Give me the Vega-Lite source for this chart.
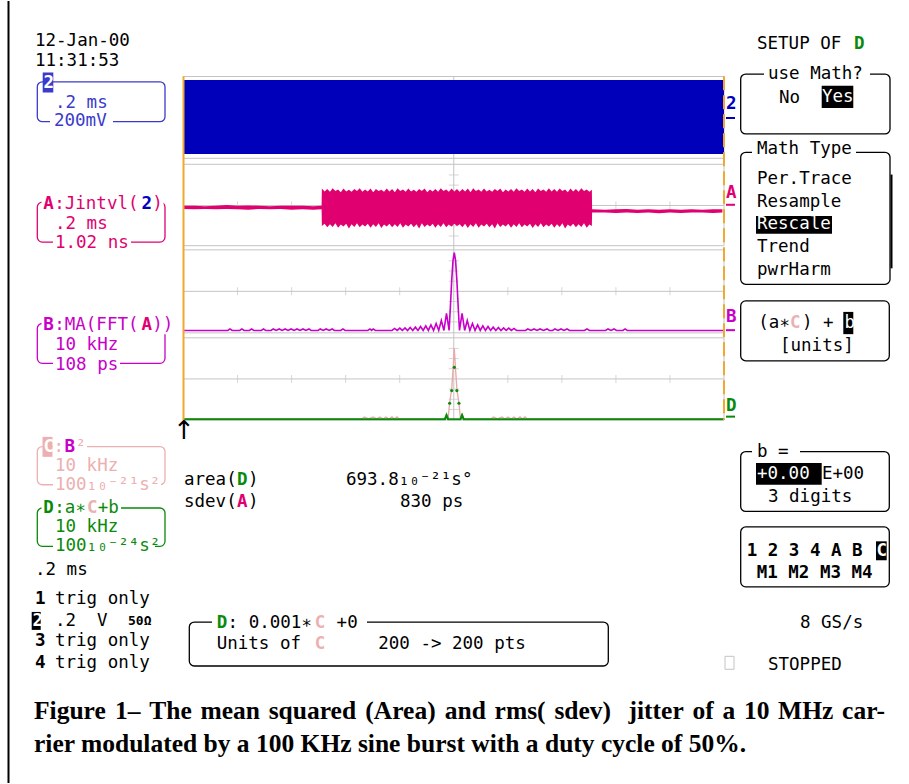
{
  "$schema": "https://vega.github.io/schema/vega-lite/v6.json",
  "width": 909,
  "height": 784,
  "autosize": {"type": "fit", "contains": "padding"},
  "padding": 0,
  "background": "#ffffff",
  "config": {"view": {"stroke": null}, "axis": {"disable": true}, "legend": {"disable": true}},
  "datasets": {
    "boxes": [
      {"x": 37.3, "x2": 165, "y": 81, "y2": 121, "c": "blue"},
      {"x": 37.3, "x2": 165, "y": 201.7, "y2": 241.7, "c": "pink"},
      {"x": 37.3, "x2": 165, "y": 323.3, "y2": 363.3, "c": "mag"},
      {"x": 37.3, "x2": 165, "y": 446.7, "y2": 485, "c": "lpink"},
      {"x": 37.3, "x2": 165, "y": 508.3, "y2": 546.7, "c": "green"},
      {"x": 740.7, "x2": 890, "y": 73.3, "y2": 133.3, "c": "k"},
      {"x": 740.7, "x2": 890, "y": 151.7, "y2": 284, "c": "k"},
      {"x": 740.7, "x2": 889.3, "y": 300.7, "y2": 360.7, "c": "k"},
      {"x": 740.7, "x2": 889.3, "y": 451.7, "y2": 511.7, "c": "k"},
      {"x": 740.7, "x2": 889.3, "y": 527.3, "y2": 587.3, "c": "k"},
      {"x": 189.3, "x2": 608.3, "y": 622.7, "y2": 666.7, "c": "k"}
    ],
    "fills": [
      {"x": 50, "x2": 113, "y": 114, "y2": 128, "c": "w"},
      {"x": 41.5, "x2": 163.5, "y": 194, "y2": 212, "c": "w"},
      {"x": 53, "x2": 131, "y": 235, "y2": 250, "c": "w"},
      {"x": 41.5, "x2": 172, "y": 315, "y2": 334, "c": "w"},
      {"x": 53, "x2": 120, "y": 357, "y2": 371, "c": "w"},
      {"x": 52.5, "x2": 87, "y": 439, "y2": 455, "c": "w"},
      {"x": 53, "x2": 161, "y": 478, "y2": 492, "c": "w"},
      {"x": 41.5, "x2": 121, "y": 500, "y2": 516, "c": "w"},
      {"x": 53, "x2": 155, "y": 539, "y2": 553, "c": "w"},
      {"x": 764, "x2": 870, "y": 66, "y2": 81, "c": "w"},
      {"x": 752, "x2": 856, "y": 141, "y2": 157, "c": "w"},
      {"x": 752, "x2": 800, "y": 444, "y2": 459, "c": "w"},
      {"x": 212, "x2": 367, "y": 615, "y2": 631, "c": "w"},
      {"x": 42.7, "x2": 53.3, "y": 71.7, "y2": 91.7, "c": "blue"},
      {"x": 42.5, "x2": 52.5, "y": 437, "y2": 457, "c": "lpink"},
      {"x": 31.7, "x2": 40.7, "y": 612.5, "y2": 630.5, "c": "k"},
      {"x": 821.7, "x2": 853.3, "y": 85, "y2": 107.3, "c": "k"},
      {"x": 756, "x2": 832, "y": 215.5, "y2": 233.3, "c": "k"},
      {"x": 843.3, "x2": 853.3, "y": 311.7, "y2": 334, "c": "k"},
      {"x": 756, "x2": 821.7, "y": 463.3, "y2": 485, "c": "k"},
      {"x": 876, "x2": 886.7, "y": 541.7, "y2": 560.7, "c": "k"}
    ],
    "plainrects": [
      {"x": 183.5, "x2": 724, "y": 75.7, "y2": 157.7},
      {"x": 183.5, "x2": 724, "y": 163.7, "y2": 245.3},
      {"x": 183.5, "x2": 724, "y": 249.5, "y2": 332.7},
      {"x": 183.5, "x2": 724, "y": 337.7, "y2": 420},
      {"x": 725, "x2": 734, "y": 657, "y2": 670}
    ],
    "gridlines": [
      {"x": 183.5, "x2": 724, "y": 116.7, "y2": 116.7},
      {"x": 183.5, "x2": 724, "y": 205, "y2": 205},
      {"x": 183.5, "x2": 724, "y": 291.1, "y2": 291.1},
      {"x": 183.5, "x2": 724, "y": 378.9, "y2": 378.9},
      {"x": 453.75, "x2": 453.75, "y": 75.7, "y2": 420}
    ],
    "hticks": [
      {"x": 237.55, "y": 205}, {"x": 291.6, "y": 205}, {"x": 345.65, "y": 205}, {"x": 399.7, "y": 205},
      {"x": 507.8, "y": 205}, {"x": 561.85, "y": 205}, {"x": 615.9, "y": 205}, {"x": 669.95, "y": 205},
      {"x": 237.55, "y": 291.1}, {"x": 291.6, "y": 291.1}, {"x": 345.65, "y": 291.1}, {"x": 399.7, "y": 291.1},
      {"x": 507.8, "y": 291.1}, {"x": 561.85, "y": 291.1}, {"x": 615.9, "y": 291.1}, {"x": 669.95, "y": 291.1},
      {"x": 237.55, "y": 378.9}, {"x": 291.6, "y": 378.9}, {"x": 345.65, "y": 378.9}, {"x": 399.7, "y": 378.9},
      {"x": 507.8, "y": 378.9}, {"x": 561.85, "y": 378.9}, {"x": 615.9, "y": 378.9}, {"x": 669.95, "y": 378.9}
    ],
    "vticks": [
      {"x": 453.75, "y": 174.4}, {"x": 453.75, "y": 184.6}, {"x": 453.75, "y": 194.8},
      {"x": 453.75, "y": 215.2}, {"x": 453.75, "y": 225.4}, {"x": 453.75, "y": 235.6},
      {"x": 453.75, "y": 260.5}, {"x": 453.75, "y": 270.7}, {"x": 453.75, "y": 280.9},
      {"x": 453.75, "y": 301.3}, {"x": 453.75, "y": 311.5}, {"x": 453.75, "y": 321.7},
      {"x": 453.75, "y": 348.3}, {"x": 453.75, "y": 358.5}, {"x": 453.75, "y": 368.7},
      {"x": 453.75, "y": 389.1}, {"x": 453.75, "y": 399.3}, {"x": 453.75, "y": 409.5}
    ],
    "ch2": [
      {"t": 0, "lo": -180, "hi": 182},
      {"t": 10, "lo": -180, "hi": 182}
    ],
    "chA": [
      {"t": 0.0, "lo": -0.07, "hi": 0.01}, {"t": 0.2, "lo": -0.08, "hi": 0.01}, {"t": 0.4, "lo": -0.07, "hi": 0.0},
      {"t": 0.6, "lo": -0.08, "hi": 0.01}, {"t": 0.8, "lo": -0.07, "hi": 0.03}, {"t": 1.0, "lo": -0.08, "hi": 0.01},
      {"t": 1.2, "lo": -0.09, "hi": 0.02}, {"t": 1.4, "lo": -0.07, "hi": 0.01}, {"t": 1.6, "lo": -0.08, "hi": 0.0},
      {"t": 1.8, "lo": -0.07, "hi": 0.01}, {"t": 2.0, "lo": -0.09, "hi": 0.01}, {"t": 2.2, "lo": -0.08, "hi": 0.01},
      {"t": 2.4, "lo": -0.09, "hi": 0.0}, {"t": 2.555, "lo": -0.08, "hi": 0.01},
      {"t": 2.56, "lo": -0.50, "hi": 0.44}, {"t": 2.61, "lo": -0.44, "hi": 0.37}, {"t": 2.66, "lo": -0.53, "hi": 0.43},
      {"t": 2.71, "lo": -0.45, "hi": 0.36}, {"t": 2.76, "lo": -0.52, "hi": 0.45}, {"t": 2.81, "lo": -0.43, "hi": 0.38},
      {"t": 2.86, "lo": -0.54, "hi": 0.42}, {"t": 2.91, "lo": -0.46, "hi": 0.35}, {"t": 2.96, "lo": -0.51, "hi": 0.44},
      {"t": 3.01, "lo": -0.44, "hi": 0.37}, {"t": 3.06, "lo": -0.56, "hi": 0.41}, {"t": 3.11, "lo": -0.45, "hi": 0.36},
      {"t": 3.16, "lo": -0.52, "hi": 0.43}, {"t": 3.21, "lo": -0.43, "hi": 0.38}, {"t": 3.26, "lo": -0.53, "hi": 0.45},
      {"t": 3.31, "lo": -0.46, "hi": 0.36}, {"t": 3.36, "lo": -0.51, "hi": 0.42}, {"t": 3.41, "lo": -0.44, "hi": 0.37},
      {"t": 3.46, "lo": -0.54, "hi": 0.44}, {"t": 3.51, "lo": -0.45, "hi": 0.35}, {"t": 3.56, "lo": -0.52, "hi": 0.43},
      {"t": 3.61, "lo": -0.43, "hi": 0.38}, {"t": 3.66, "lo": -0.55, "hi": 0.41}, {"t": 3.71, "lo": -0.46, "hi": 0.36},
      {"t": 3.76, "lo": -0.51, "hi": 0.44}, {"t": 3.81, "lo": -0.44, "hi": 0.37}, {"t": 3.86, "lo": -0.53, "hi": 0.43},
      {"t": 3.91, "lo": -0.45, "hi": 0.35}, {"t": 3.96, "lo": -0.52, "hi": 0.45}, {"t": 4.01, "lo": -0.43, "hi": 0.38},
      {"t": 4.06, "lo": -0.54, "hi": 0.42}, {"t": 4.11, "lo": -0.46, "hi": 0.36}, {"t": 4.16, "lo": -0.51, "hi": 0.44},
      {"t": 4.21, "lo": -0.44, "hi": 0.37}, {"t": 4.26, "lo": -0.53, "hi": 0.41}, {"t": 4.31, "lo": -0.45, "hi": 0.36},
      {"t": 4.36, "lo": -0.56, "hi": 0.43}, {"t": 4.41, "lo": -0.43, "hi": 0.38}, {"t": 4.46, "lo": -0.52, "hi": 0.44},
      {"t": 4.51, "lo": -0.46, "hi": 0.35}, {"t": 4.56, "lo": -0.51, "hi": 0.42}, {"t": 4.61, "lo": -0.44, "hi": 0.37},
      {"t": 4.66, "lo": -0.54, "hi": 0.43}, {"t": 4.71, "lo": -0.45, "hi": 0.36}, {"t": 4.76, "lo": -0.52, "hi": 0.45},
      {"t": 4.81, "lo": -0.43, "hi": 0.38}, {"t": 4.86, "lo": -0.53, "hi": 0.42}, {"t": 4.91, "lo": -0.46, "hi": 0.36},
      {"t": 4.96, "lo": -0.51, "hi": 0.44}, {"t": 5.01, "lo": -0.44, "hi": 0.37}, {"t": 5.06, "lo": -0.50, "hi": 0.43},
      {"t": 5.11, "lo": -0.45, "hi": 0.36}, {"t": 5.16, "lo": -0.53, "hi": 0.43}, {"t": 5.21, "lo": -0.44, "hi": 0.37},
      {"t": 5.26, "lo": -0.55, "hi": 0.44}, {"t": 5.31, "lo": -0.45, "hi": 0.35}, {"t": 5.36, "lo": -0.52, "hi": 0.45},
      {"t": 5.41, "lo": -0.43, "hi": 0.38}, {"t": 5.46, "lo": -0.54, "hi": 0.42}, {"t": 5.51, "lo": -0.46, "hi": 0.36},
      {"t": 5.56, "lo": -0.51, "hi": 0.44}, {"t": 5.61, "lo": -0.44, "hi": 0.37}, {"t": 5.66, "lo": -0.53, "hi": 0.41},
      {"t": 5.71, "lo": -0.45, "hi": 0.36}, {"t": 5.76, "lo": -0.56, "hi": 0.43}, {"t": 5.81, "lo": -0.43, "hi": 0.38},
      {"t": 5.86, "lo": -0.52, "hi": 0.44}, {"t": 5.91, "lo": -0.46, "hi": 0.35}, {"t": 5.96, "lo": -0.51, "hi": 0.42},
      {"t": 6.01, "lo": -0.44, "hi": 0.37}, {"t": 6.06, "lo": -0.54, "hi": 0.43}, {"t": 6.11, "lo": -0.45, "hi": 0.36},
      {"t": 6.16, "lo": -0.52, "hi": 0.45}, {"t": 6.21, "lo": -0.43, "hi": 0.38}, {"t": 6.26, "lo": -0.53, "hi": 0.42},
      {"t": 6.31, "lo": -0.46, "hi": 0.36}, {"t": 6.36, "lo": -0.51, "hi": 0.44}, {"t": 6.41, "lo": -0.44, "hi": 0.37},
      {"t": 6.46, "lo": -0.55, "hi": 0.43}, {"t": 6.51, "lo": -0.45, "hi": 0.35}, {"t": 6.56, "lo": -0.52, "hi": 0.44},
      {"t": 6.61, "lo": -0.43, "hi": 0.38}, {"t": 6.66, "lo": -0.53, "hi": 0.42}, {"t": 6.71, "lo": -0.46, "hi": 0.36},
      {"t": 6.76, "lo": -0.51, "hi": 0.45}, {"t": 6.81, "lo": -0.44, "hi": 0.37}, {"t": 6.86, "lo": -0.54, "hi": 0.43},
      {"t": 6.91, "lo": -0.45, "hi": 0.36}, {"t": 6.96, "lo": -0.52, "hi": 0.44}, {"t": 7.01, "lo": -0.43, "hi": 0.38},
      {"t": 7.06, "lo": -0.56, "hi": 0.42}, {"t": 7.11, "lo": -0.46, "hi": 0.35}, {"t": 7.16, "lo": -0.51, "hi": 0.44},
      {"t": 7.21, "lo": -0.44, "hi": 0.37}, {"t": 7.26, "lo": -0.53, "hi": 0.43}, {"t": 7.31, "lo": -0.45, "hi": 0.36},
      {"t": 7.36, "lo": -0.52, "hi": 0.45}, {"t": 7.41, "lo": -0.43, "hi": 0.38}, {"t": 7.46, "lo": -0.54, "hi": 0.42},
      {"t": 7.51, "lo": -0.46, "hi": 0.36}, {"t": 7.555, "lo": -0.50, "hi": 0.41},
      {"t": 7.56, "lo": -0.16, "hi": -0.08}, {"t": 7.8, "lo": -0.16, "hi": -0.09}, {"t": 8.0, "lo": -0.17, "hi": -0.08},
      {"t": 8.2, "lo": -0.16, "hi": -0.07}, {"t": 8.4, "lo": -0.17, "hi": -0.09}, {"t": 8.6, "lo": -0.16, "hi": -0.08},
      {"t": 8.8, "lo": -0.18, "hi": -0.09}, {"t": 9.0, "lo": -0.16, "hi": -0.08}, {"t": 9.2, "lo": -0.17, "hi": -0.09},
      {"t": 9.4, "lo": -0.16, "hi": -0.08}, {"t": 9.6, "lo": -0.16, "hi": -0.09}, {"t": 9.8, "lo": -0.17, "hi": -0.08},
      {"t": 9.97, "lo": -0.16, "hi": -0.08}
    ],
    "chB": [
      {"t": 0, "v": 0},
      {"t": 0.82, "v": 0}, {"t": 0.86, "v": 4}, {"t": 0.9, "v": 0},
      {"t": 1.04, "v": 0}, {"t": 1.08, "v": 4}, {"t": 1.12, "v": 0},
      {"t": 1.22, "v": 0}, {"t": 1.26, "v": 4}, {"t": 1.3, "v": 0},
      {"t": 1.44, "v": 0}, {"t": 1.48, "v": 4}, {"t": 1.52, "v": 0},
      {"t": 1.62, "v": 0}, {"t": 1.66, "v": 4}, {"t": 1.715, "v": 0}, {"t": 1.77, "v": 4}, {"t": 1.825, "v": 0},
      {"t": 1.88, "v": 4}, {"t": 1.935, "v": 0}, {"t": 1.99, "v": 4}, {"t": 2.045, "v": 0}, {"t": 2.1, "v": 4},
      {"t": 2.155, "v": 0}, {"t": 2.21, "v": 4}, {"t": 2.265, "v": 0}, {"t": 2.32, "v": 4}, {"t": 2.36, "v": 0},
      {"t": 2.49, "v": 0}, {"t": 2.53, "v": 4}, {"t": 2.585, "v": 0}, {"t": 2.64, "v": 4}, {"t": 2.695, "v": 0},
      {"t": 2.75, "v": 4}, {"t": 2.79, "v": 0},
      {"t": 2.91, "v": 0}, {"t": 2.95, "v": 4}, {"t": 2.99, "v": 0},
      {"t": 3.41, "v": 0}, {"t": 3.45, "v": 4}, {"t": 3.48, "v": 0}, {"t": 3.51, "v": 4}, {"t": 3.55, "v": 0},
      {"t": 3.858, "v": 0}, {"t": 3.906, "v": 5.3}, {"t": 3.954, "v": 0}, {"t": 4.002, "v": 6.3}, {"t": 4.05, "v": 0},
      {"t": 4.098, "v": 6.8}, {"t": 4.146, "v": 0}, {"t": 4.194, "v": 7.9}, {"t": 4.242, "v": 0}, {"t": 4.29, "v": 8.7},
      {"t": 4.338, "v": 0}, {"t": 4.386, "v": 10.5}, {"t": 4.434, "v": 0}, {"t": 4.482, "v": 11.9}, {"t": 4.53, "v": 0},
      {"t": 4.578, "v": 14.5}, {"t": 4.626, "v": 0}, {"t": 4.674, "v": 18.4}, {"t": 4.722, "v": 0}, {"t": 4.77, "v": 26.3},
      {"t": 4.818, "v": 0}, {"t": 4.866, "v": 44.8}, {"t": 4.914, "v": 0}, {"t": 4.938, "v": 63.2}, {"t": 4.962, "v": 131.7},
      {"t": 4.986, "v": 184.4}, {"t": 5.01, "v": 205.5}, {"t": 5.034, "v": 184.4}, {"t": 5.058, "v": 131.7},
      {"t": 5.082, "v": 63.2}, {"t": 5.106, "v": 0}, {"t": 5.154, "v": 44.8}, {"t": 5.202, "v": 0}, {"t": 5.25, "v": 26.3},
      {"t": 5.298, "v": 0}, {"t": 5.346, "v": 18.4}, {"t": 5.394, "v": 0}, {"t": 5.442, "v": 14.5}, {"t": 5.49, "v": 0},
      {"t": 5.538, "v": 11.9}, {"t": 5.586, "v": 0}, {"t": 5.634, "v": 10.5}, {"t": 5.682, "v": 0}, {"t": 5.73, "v": 8.7},
      {"t": 5.778, "v": 0}, {"t": 5.826, "v": 7.9}, {"t": 5.874, "v": 0}, {"t": 5.922, "v": 6.8}, {"t": 5.97, "v": 0},
      {"t": 6.018, "v": 6.3}, {"t": 6.066, "v": 0}, {"t": 6.114, "v": 5.3}, {"t": 6.162, "v": 0},
      {"t": 6.33, "v": 0}, {"t": 6.37, "v": 4}, {"t": 6.43, "v": 0}, {"t": 6.485, "v": 4}, {"t": 6.54, "v": 0},
      {"t": 6.596, "v": 4}, {"t": 6.66, "v": 0}, {"t": 6.725, "v": 4}, {"t": 6.77, "v": 0},
      {"t": 6.83, "v": 0}, {"t": 6.873, "v": 4}, {"t": 6.93, "v": 0}, {"t": 6.984, "v": 4}, {"t": 7.04, "v": 0},
      {"t": 7.095, "v": 4}, {"t": 7.14, "v": 0},
      {"t": 7.42, "v": 0}, {"t": 7.465, "v": 4}, {"t": 7.51, "v": 0},
      {"t": 7.81, "v": 0}, {"t": 7.854, "v": 4}, {"t": 7.91, "v": 0}, {"t": 7.965, "v": 4}, {"t": 8.01, "v": 0},
      {"t": 8.13, "v": 0}, {"t": 8.17, "v": 4}, {"t": 8.21, "v": 0},
      {"t": 10, "v": 0}
    ],
    "chC": [
      {"t": 0, "v": 0},
      {"t": 3.3, "v": 0}, {"t": 3.345, "v": 4.9}, {"t": 3.425, "v": 0}, {"t": 3.506, "v": 4.9}, {"t": 3.57, "v": 0},
      {"t": 3.635, "v": 4.9}, {"t": 3.69, "v": 0}, {"t": 3.746, "v": 4.9}, {"t": 3.8, "v": 0}, {"t": 3.857, "v": 4.9},
      {"t": 3.9, "v": 0}, {"t": 3.95, "v": 4.9}, {"t": 3.99, "v": 0},
      {"t": 4.837, "v": 0}, {"t": 4.866, "v": 9.8}, {"t": 4.895, "v": 0}, {"t": 4.924, "v": 39}, {"t": 4.962, "v": 73},
      {"t": 4.986, "v": 120}, {"t": 5.01, "v": 173.2}, {"t": 5.034, "v": 120}, {"t": 5.058, "v": 73}, {"t": 5.096, "v": 39},
      {"t": 5.125, "v": 0}, {"t": 5.154, "v": 9.8}, {"t": 5.183, "v": 0},
      {"t": 5.69, "v": 0}, {"t": 5.732, "v": 4.9}, {"t": 5.81, "v": 0}, {"t": 5.893, "v": 4.9}, {"t": 5.95, "v": 0},
      {"t": 6.004, "v": 4.9}, {"t": 6.06, "v": 0}, {"t": 6.115, "v": 4.9}, {"t": 6.17, "v": 0}, {"t": 6.226, "v": 4.9},
      {"t": 6.27, "v": 0}, {"t": 6.318, "v": 4.9}, {"t": 6.36, "v": 0},
      {"t": 10, "v": 0}
    ],
    "chD": [
      {"t": 0, "v": 0}, {"t": 4.837, "v": 0}, {"t": 4.866, "v": 9.8}, {"t": 4.895, "v": 0}, {"t": 4.924, "v": 39},
      {"t": 4.962, "v": 70}, {"t": 5.01, "v": 126.8}, {"t": 5.058, "v": 70}, {"t": 5.096, "v": 39}, {"t": 5.125, "v": 0},
      {"t": 5.154, "v": 9.8}, {"t": 5.183, "v": 0}, {"t": 10, "v": 0}
    ],
    "edges": [
      {"x": 183.5, "x2": 183.5, "y": 75.5, "y2": 420, "side": "l"},
      {"x": 724, "x2": 724, "y": 75.5, "y2": 420, "side": "r"}
    ],
    "lines": [
      {"x": 726, "x2": 735, "y": 117.3, "y2": 117.3, "c": "blue2"},
      {"x": 726, "x2": 735, "y": 204.3, "y2": 204.3, "c": "pink"},
      {"x": 726, "x2": 735, "y": 330, "y2": 330, "c": "mag"},
      {"x": 726, "x2": 735, "y": 416.7, "y2": 416.7, "c": "green"},
      {"x": 8.5, "x2": 8.5, "y": 0, "y2": 784, "c": "k"},
      {"x": 891.5, "x2": 891.5, "y": 174, "y2": 268, "c": "k"}
    ],
    "texts": [
      {"x": 35, "y": 40, "s": "12-Jan-00", "c": "k"},
      {"x": 35, "y": 60, "s": "11:31:53", "c": "k"},
      {"x": 55, "y": 102, "s": ".2 ms", "c": "blue"},
      {"x": 54, "y": 120.5, "s": "200mV", "c": "blue"},
      {"x": 54.2, "y": 203.5, "s": ":Jintvl(", "c": "pink"},
      {"x": 152.3, "y": 203.5, "s": ")", "c": "pink"},
      {"x": 55, "y": 223.5, "s": ".2 ms", "c": "pink"},
      {"x": 55, "y": 243, "s": "1.02 ns", "c": "pink"},
      {"x": 54.2, "y": 325, "s": ":MA(FFT(", "c": "mag"},
      {"x": 152.3, "y": 325, "s": "))", "c": "mag"},
      {"x": 55, "y": 345, "s": "10 kHz", "c": "mag"},
      {"x": 55, "y": 364.5, "s": "108 ps", "c": "mag"},
      {"x": 53.5, "y": 447, "s": ":", "c": "lpink"},
      {"x": 75.5, "y": 447, "s": "²", "c": "lpink"},
      {"x": 55, "y": 466.5, "s": "10 kHz", "c": "lpink"},
      {"x": 55, "y": 485, "s": "100₁₀⁻²¹s²", "c": "lpink"},
      {"x": 54.2, "y": 508.5, "s": ":a∗", "c": "green"},
      {"x": 97.8, "y": 508.5, "s": "+b", "c": "green"},
      {"x": 55, "y": 527.5, "s": "10 kHz", "c": "green"},
      {"x": 55, "y": 546, "s": "100₁₀⁻²⁴s²", "c": "green"},
      {"x": 35, "y": 570, "s": ".2 ms", "c": "k"},
      {"x": 55, "y": 600, "s": "trig only", "c": "k"},
      {"x": 55, "y": 621.5, "s": ".2", "c": "k"},
      {"x": 97, "y": 621.5, "s": "V", "c": "k"},
      {"x": 55, "y": 642, "s": "trig only", "c": "k"},
      {"x": 55, "y": 663.5, "s": "trig only", "c": "k"},
      {"x": 184, "y": 480, "s": "area(", "c": "k"},
      {"x": 248, "y": 480, "s": ")", "c": "k"},
      {"x": 346, "y": 480, "s": "693.8₁₀⁻²¹s°", "c": "k"},
      {"x": 184, "y": 502, "s": "sdev(", "c": "k"},
      {"x": 248, "y": 502, "s": ")", "c": "k"},
      {"x": 400, "y": 502, "s": "830 ps", "c": "k"},
      {"x": 757, "y": 43, "s": "SETUP OF", "c": "k"},
      {"x": 768, "y": 73.5, "s": "use Math?", "c": "k"},
      {"x": 779, "y": 97, "s": "No", "c": "k"},
      {"x": 822, "y": 96.5, "s": "Yes", "c": "w"},
      {"x": 757, "y": 148.5, "s": "Math Type", "c": "k"},
      {"x": 757, "y": 178.5, "s": "Per.Trace", "c": "k"},
      {"x": 757, "y": 201.5, "s": "Resample", "c": "k"},
      {"x": 757, "y": 224, "s": "Rescale", "c": "w"},
      {"x": 757, "y": 247, "s": "Trend", "c": "k"},
      {"x": 757, "y": 270, "s": "pwrHarm", "c": "k"},
      {"x": 758.3, "y": 323, "s": "(a∗", "c": "k"},
      {"x": 801.9, "y": 323, "s": ") +", "c": "k"},
      {"x": 844.5, "y": 323, "s": "b", "c": "w"},
      {"x": 780, "y": 345.5, "s": "[units]", "c": "k"},
      {"x": 757, "y": 452, "s": "b =", "c": "k"},
      {"x": 757, "y": 474, "s": "+0.00", "c": "w"},
      {"x": 822, "y": 474, "s": "E+00", "c": "k"},
      {"x": 768, "y": 497.5, "s": "3 digits", "c": "k"},
      {"x": 800, "y": 623.5, "s": "8 GS/s", "c": "k"},
      {"x": 768, "y": 666, "s": "STOPPED", "c": "k"},
      {"x": 227.6, "y": 623.5, "s": ": 0.001∗", "c": "k"},
      {"x": 336.6, "y": 623.5, "s": "+0", "c": "k"},
      {"x": 216.7, "y": 645, "s": "Units of", "c": "k"},
      {"x": 378.3, "y": 645, "s": "200 -> 200 pts", "c": "k"}
    ],
    "boldtexts": [
      {"x": 43.5, "y": 82, "s": "2", "c": "w"},
      {"x": 43.3, "y": 203.5, "s": "A", "c": "pink"},
      {"x": 141.4, "y": 203.5, "s": "2", "c": "blue2"},
      {"x": 43.3, "y": 325, "s": "B", "c": "mag"},
      {"x": 141.4, "y": 325, "s": "A", "c": "pink"},
      {"x": 43.5, "y": 447, "s": "C", "c": "w"},
      {"x": 64.5, "y": 447, "s": "B", "c": "mag"},
      {"x": 43.3, "y": 508.5, "s": "D", "c": "green"},
      {"x": 87, "y": 508.5, "s": "C", "c": "lpink"},
      {"x": 35, "y": 600, "s": "1", "c": "k"},
      {"x": 32.5, "y": 621.5, "s": "2", "c": "w"},
      {"x": 35, "y": 642, "s": "3", "c": "k"},
      {"x": 35, "y": 663.5, "s": "4", "c": "k"},
      {"x": 237, "y": 480, "s": "D", "c": "green"},
      {"x": 237, "y": 502, "s": "A", "c": "pink"},
      {"x": 854, "y": 43, "s": "D", "c": "green"},
      {"x": 790, "y": 323, "s": "C", "c": "lpink"},
      {"x": 746.7, "y": 551, "s": "1 2 3 4 A B", "c": "k"},
      {"x": 876.5, "y": 551, "s": "C", "c": "w"},
      {"x": 756.7, "y": 573.5, "s": "M1 M2 M3 M4", "c": "k"},
      {"x": 216.7, "y": 623.5, "s": "D", "c": "green"},
      {"x": 314.8, "y": 623.5, "s": "C", "c": "lpink"},
      {"x": 314.8, "y": 645, "s": "C", "c": "lpink"},
      {"x": 726, "y": 103, "s": "2", "c": "blue2"},
      {"x": 726, "y": 192, "s": "A", "c": "pink"},
      {"x": 726, "y": 317, "s": "B", "c": "mag"},
      {"x": 726, "y": 406, "s": "D", "c": "green"}
    ],
    "smalltexts": [
      {"x": 128, "y": 622, "s": "50Ω"}
    ],
    "arrows": [
      {"x": 184, "y": 431, "s": "↑"}
    ],
    "caption": [
      {"x": 34, "y": 712, "s": "Figure"},
      {"x": 115, "y": 712, "s": "1–"},
      {"x": 149.2, "y": 712, "s": "The"},
      {"x": 200.5, "y": 712, "s": "mean"},
      {"x": 268.7, "y": 712, "s": "squared"},
      {"x": 365.3, "y": 712, "s": "(Area)"},
      {"x": 444.8, "y": 712, "s": "and"},
      {"x": 494.6, "y": 712, "s": "rms("},
      {"x": 554.4, "y": 712, "s": "sdev)"},
      {"x": 628.5, "y": 712, "s": "jitter"},
      {"x": 692.4, "y": 712, "s": "of"},
      {"x": 722.4, "y": 712, "s": "a"},
      {"x": 743.9, "y": 712, "s": "10"},
      {"x": 778.1, "y": 712, "s": "MHz"},
      {"x": 842.1, "y": 712, "s": "car-"},
      {"x": 34, "y": 745, "s": "rier modulated by a 100 KHz sine burst with a duty cycle of 50%."}
    ]
  },
  "resolve": {"scale": {"x": "independent", "y": "independent", "color": "independent", "strokeDash": "independent"}},
  "layer": [
    {
      "encoding": {
        "x": {"field": "x", "type": "quantitative", "scale": {"domain": [0, 909], "nice": false, "zero": false}, "axis": null},
        "y": {"field": "y", "type": "quantitative", "scale": {"domain": [784, 0], "nice": false, "zero": false}, "axis": null}
      },
      "layer": [
        {
          "data": {"name": "boxes"},
          "mark": {"type": "rect", "filled": false, "cornerRadius": 5, "strokeWidth": 1.3},
          "encoding": {
            "x2": {"field": "x2"}, "y2": {"field": "y2"},
            "color": {"field": "c", "type": "nominal", "legend": null,
              "scale": {"domain": ["k", "w", "blue", "blue2", "pink", "mag", "lpink", "green", "gray"], "range": ["#000000", "#ffffff", "#3a3acc", "#0000c0", "#e00070", "#c800c8", "#ecb0b0", "#0a8a0a", "#b0b0b0"]}}
          }
        },
        {
          "data": {"name": "fills"},
          "mark": {"type": "rect"},
          "encoding": {
            "x2": {"field": "x2"}, "y2": {"field": "y2"},
            "color": {"field": "c", "type": "nominal", "legend": null,
              "scale": {"domain": ["k", "w", "blue", "blue2", "pink", "mag", "lpink", "green", "gray"], "range": ["#000000", "#ffffff", "#3a3acc", "#0000c0", "#e00070", "#c800c8", "#ecb0b0", "#0a8a0a", "#b0b0b0"]}}
          }
        },
        {
          "data": {"name": "plainrects"},
          "mark": {"type": "rect", "filled": false, "color": "#c4c4c4", "strokeWidth": 1},
          "encoding": {"x2": {"field": "x2"}, "y2": {"field": "y2"}}
        },
        {
          "data": {"name": "gridlines"},
          "mark": {"type": "rule", "color": "#c4c4c4", "strokeWidth": 1},
          "encoding": {"x2": {"field": "x2"}, "y2": {"field": "y2"}}
        },
        {
          "data": {"name": "hticks"},
          "mark": {"type": "tick", "orient": "vertical", "size": 8, "thickness": 1, "color": "#c4c4c4"}
        },
        {
          "data": {"name": "vticks"},
          "mark": {"type": "tick", "orient": "horizontal", "size": 10, "thickness": 1, "color": "#c4c4c4"}
        }
      ]
    },
    {
      "data": {"name": "ch2"},
      "mark": {"type": "area", "color": "#0000bb"},
      "encoding": {
        "x": {"field": "t", "type": "quantitative", "scale": {"domain": [-3.395, 13.4228], "nice": false, "zero": false}, "axis": null},
        "y": {"field": "lo", "type": "quantitative", "scale": {"domain": [-3256.1, 568.29], "nice": false, "zero": false}, "axis": null},
        "y2": {"field": "hi"}
      }
    },
    {
      "data": {"name": "chA"},
      "mark": {"type": "area", "color": "#e00070"},
      "encoding": {
        "x": {"field": "t", "type": "quantitative", "scale": {"domain": [-3.395, 13.4228], "nice": false, "zero": false}, "axis": null},
        "y": {"field": "lo", "type": "quantitative", "scale": {"domain": [-14.4575, 5.1425], "nice": false, "zero": false}, "axis": null},
        "y2": {"field": "hi"}
      }
    },
    {
      "data": {"name": "chB"},
      "mark": {"type": "line", "color": "#c800c8", "strokeWidth": 1.6},
      "encoding": {
        "x": {"field": "t", "type": "quantitative", "scale": {"domain": [-3.395, 13.4228], "nice": false, "zero": false}, "axis": null},
        "y": {"field": "v", "type": "quantitative", "scale": {"domain": [-1195.21, 870.13], "nice": false, "zero": false}, "axis": null}
      }
    },
    {
      "data": {"name": "chC"},
      "mark": {"type": "line", "color": "#eaa8a8", "strokeWidth": 1.3},
      "encoding": {
        "x": {"field": "t", "type": "quantitative", "scale": {"domain": [-3.395, 13.4228], "nice": false, "zero": false}, "axis": null},
        "y": {"field": "v", "type": "quantitative", "scale": {"domain": [-890.24, 1021.95], "nice": false, "zero": false}, "axis": null}
      }
    },
    {
      "data": {"name": "chD"},
      "transform": [{"filter": "datum.v < 20"}],
      "mark": {"type": "line", "color": "#0a8a0a", "strokeWidth": 2.2},
      "encoding": {
        "x": {"field": "t", "type": "quantitative", "scale": {"domain": [-3.395, 13.4228], "nice": false, "zero": false}, "axis": null},
        "y": {"field": "v", "type": "quantitative", "scale": {"domain": [-889.51, 1022.68], "nice": false, "zero": false}, "axis": null}
      }
    },
    {
      "data": {"name": "chD"},
      "transform": [{"filter": "datum.v >= 20"}],
      "mark": {"type": "point", "filled": true, "size": 10, "color": "#0a8a0a", "opacity": 1},
      "encoding": {
        "x": {"field": "t", "type": "quantitative", "scale": {"domain": [-3.395, 13.4228], "nice": false, "zero": false}, "axis": null},
        "y": {"field": "v", "type": "quantitative", "scale": {"domain": [-889.51, 1022.68], "nice": false, "zero": false}, "axis": null}
      }
    },
    {
      "encoding": {
        "x": {"field": "x", "type": "quantitative", "scale": {"domain": [0, 909], "nice": false, "zero": false}, "axis": null},
        "y": {"field": "y", "type": "quantitative", "scale": {"domain": [784, 0], "nice": false, "zero": false}, "axis": null}
      },
      "layer": [
        {
          "data": {"name": "edges"},
          "mark": {"type": "rule", "color": "#f0a830", "strokeWidth": 2},
          "encoding": {
            "x2": {"field": "x2"}, "y2": {"field": "y2"},
            "strokeDash": {"field": "side", "type": "nominal", "legend": null, "scale": {"domain": ["l", "r"], "range": [[1, 0], [14, 5]]}}
          }
        },
        {
          "data": {"name": "lines"},
          "mark": {"type": "rule", "strokeWidth": 2},
          "encoding": {
            "x2": {"field": "x2"}, "y2": {"field": "y2"},
            "color": {"field": "c", "type": "nominal", "legend": null,
              "scale": {"domain": ["k", "w", "blue", "blue2", "pink", "mag", "lpink", "green", "gray"], "range": ["#000000", "#ffffff", "#3a3acc", "#0000c0", "#e00070", "#c800c8", "#ecb0b0", "#0a8a0a", "#b0b0b0"]}}
          }
        },
        {
          "data": {"name": "texts"},
          "mark": {"type": "text", "align": "left", "baseline": "middle", "font": "DejaVu Sans Mono", "fontSize": 17.5},
          "encoding": {
            "text": {"field": "s"},
            "color": {"field": "c", "type": "nominal", "legend": null,
              "scale": {"domain": ["k", "w", "blue", "blue2", "pink", "mag", "lpink", "green", "gray"], "range": ["#000000", "#ffffff", "#3a3acc", "#0000c0", "#e00070", "#c800c8", "#ecb0b0", "#0a8a0a", "#b0b0b0"]}}
          }
        },
        {
          "data": {"name": "boldtexts"},
          "mark": {"type": "text", "align": "left", "baseline": "middle", "font": "DejaVu Sans Mono", "fontSize": 17.5, "fontWeight": "bold"},
          "encoding": {
            "text": {"field": "s"},
            "color": {"field": "c", "type": "nominal", "legend": null,
              "scale": {"domain": ["k", "w", "blue", "blue2", "pink", "mag", "lpink", "green", "gray"], "range": ["#000000", "#ffffff", "#3a3acc", "#0000c0", "#e00070", "#c800c8", "#ecb0b0", "#0a8a0a", "#b0b0b0"]}}
          }
        },
        {
          "data": {"name": "smalltexts"},
          "mark": {"type": "text", "align": "left", "baseline": "middle", "font": "DejaVu Sans Mono", "fontSize": 13, "fontWeight": "bold", "color": "#000000"},
          "encoding": {"text": {"field": "s"}}
        },
        {
          "data": {"name": "arrows"},
          "mark": {"type": "text", "align": "center", "baseline": "middle", "font": "DejaVu Sans", "fontSize": 26, "color": "#000000"},
          "encoding": {"text": {"field": "s"}}
        },
        {
          "data": {"name": "caption"},
          "mark": {"type": "text", "align": "left", "baseline": "middle", "font": "Liberation Serif", "fontSize": 25.5, "fontWeight": "bold", "color": "#000000"},
          "encoding": {"text": {"field": "s"}}
        }
      ]
    }
  ]
}
